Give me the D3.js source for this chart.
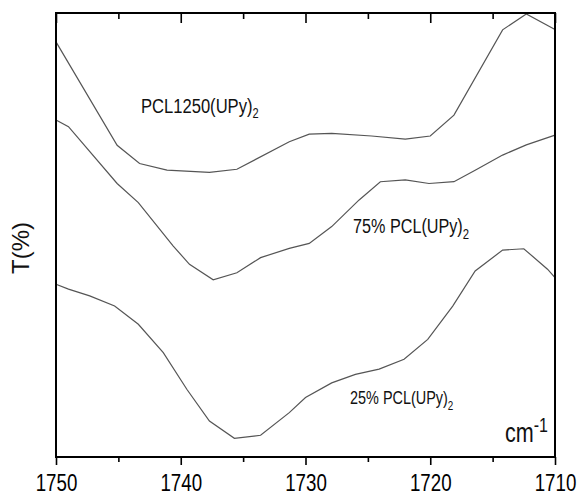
<!DOCTYPE html>
<html>
<head>
<meta charset="utf-8">
<script src="https://cdn.jsdelivr.net/npm/d3@7"></script>
<style>
  body { margin: 0; background: #fff; }
  svg { display: block; font-family: "Liberation Sans", Arial, sans-serif; }
</style>
</head>
<body>
<svg id="chart" width="579" height="496"></svg>
<script>
// wavenumber (cm-1) for each trace
const waveA = [1750, 1745.1, 1743.3, 1741.1, 1737.7, 1735.5, 1731.3, 1729.7, 1727.9, 1724.7, 1722.0, 1720.0, 1718.1, 1714.2, 1712.3, 1710];
const pcl1250 = [93.5, 70.2, 66.1, 64.6, 64.1, 64.8, 71.0, 72.7, 72.9, 72.3, 71.6, 72.3, 77.0, 96.2, 99.8, 96.3];

const waveB = [1750, 1749.0, 1745.1, 1743.4, 1740.6, 1739.3, 1737.4, 1735.5, 1733.6, 1731.3, 1729.7, 1727.9, 1725.7, 1724.0, 1722.0, 1720.1, 1718.1, 1716.4, 1714.2, 1712.3, 1710];
const pcl75 = [75.9, 74.4, 61.6, 57.3, 47.5, 43.4, 39.9, 41.5, 44.9, 47.0, 48.1, 51.9, 57.9, 62.0, 62.4, 61.6, 62.0, 64.6, 68.0, 70.3, 72.5];

const waveC = [1750, 1749.0, 1747.3, 1745.3, 1743.4, 1741.4, 1739.5, 1737.7, 1735.7, 1733.6, 1731.3, 1730.0, 1727.9, 1726.0, 1724.1, 1722.1, 1720.2, 1718.2, 1716.4, 1714.2, 1712.5, 1710.6, 1710];
const pcl25 = [38.9, 37.8, 36.3, 34.0, 29.9, 23.5, 15.2, 8.1, 4.2, 4.9, 10.0, 13.4, 16.7, 18.6, 19.8, 22.0, 26.5, 34.0, 41.9, 46.6, 46.9, 42.3, 40.4];

const majorTicks = [1750, 1740, 1730, 1720, 1710];
const minorTicks = [1745, 1735, 1725, 1715];

const svg = d3.select('#chart');
const plotL = 56, plotR = 555, plotT = 13, plotB = 457;

const x = d3.scaleLinear().domain([1750, 1710]).range([plotL, plotR]);
const y = d3.scaleLinear().domain([0, 100]).range([plotB, plotT]);

// traces
const line = d3.line().x(d => x(d[0])).y(d => y(d[1]));
[[waveA, pcl1250], [waveB, pcl75], [waveC, pcl25]].forEach(([w, t]) => {
  svg.append('path')
    .datum(w.map((v, i) => [v, t[i]]))
    .attr('d', line)
    .attr('fill', 'none')
    .attr('stroke', '#555')
    .attr('stroke-width', 1.2);
});

// frame
svg.append('rect')
  .attr('x', plotL).attr('y', plotT)
  .attr('width', plotR - plotL).attr('height', plotB - plotT)
  .attr('fill', 'none').attr('stroke', '#000').attr('stroke-width', 2);

// bottom axis, ticks outward
const bAxis = svg.append('g').attr('transform', `translate(0,${plotB})`)
  .call(d3.axisBottom(x).tickValues(majorTicks).tickSize(8).tickSizeOuter(0).tickFormat(d3.format('d')));
svg.append('g').attr('transform', `translate(0,${plotB})`)
  .call(d3.axisBottom(x).tickValues(minorTicks).tickSize(5).tickSizeOuter(0).tickFormat(''));

// top axis, ticks inward
svg.append('g').attr('transform', `translate(0,${plotT})`)
  .call(d3.axisTop(x).tickValues(majorTicks).tickSize(-10).tickSizeOuter(0).tickFormat(''));
svg.append('g').attr('transform', `translate(0,${plotT})`)
  .call(d3.axisTop(x).tickValues(minorTicks).tickSize(-6).tickSizeOuter(0).tickFormat(''));

svg.selectAll('.domain').remove();
svg.selectAll('.tick line').attr('stroke', '#000').attr('stroke-width', 1.6);

bAxis.selectAll('text')
  .attr('y', 34).attr('dy', null)
  .attr('transform', 'scale(0.78,1)')
  .attr('fill', '#000')
  .style('font-size', '24px')
  .style('font-family', '"Liberation Sans", Arial, sans-serif');

// labels with sub/superscripts
function label(px, py, main, extra, size, extraSize, shift, sx) {
  const t = svg.append('text')
    .attr('transform', `translate(${px},${py}) scale(${sx},1)`)
    .style('font-size', size + 'px')
    .attr('fill', '#111');
  t.append('tspan').text(main);
  t.append('tspan').attr('dy', shift).style('font-size', extraSize + 'px').text(extra);
}

label(141, 113, 'PCL1250(UPy)', '2', 21, 14, 5, 0.79);
label(353, 233, '75% PCL(UPy)', '2', 20, 14, 6, 0.81);
label(350, 404, '25% PCL(UPy)', '2', 19, 13, 6, 0.76);
label(505, 442, 'cm', '-1', 27, 20, -10, 0.8);

svg.append('text')
  .attr('transform', 'translate(29,248) rotate(-90)')
  .attr('text-anchor', 'middle')
  .style('font-size', '24px')
  .attr('fill', '#111')
  .text('T(%)');
</script>
</body>
</html>
